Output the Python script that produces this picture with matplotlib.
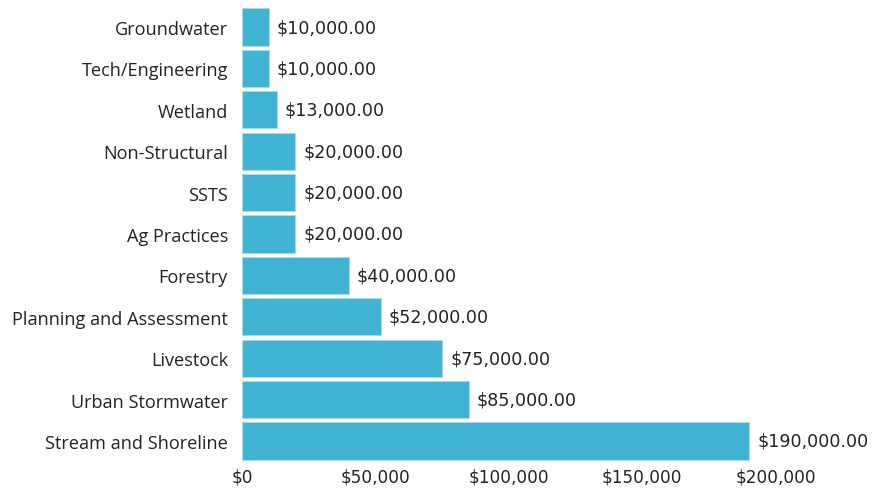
import matplotlib.pyplot as plt
from matplotlib.ticker import FuncFormatter

categories = ["Groundwater", "Tech/Engineering", "Wetland", "Non-Structural", "SSTS",
              "Ag Practices", "Forestry", "Planning and Assessment", "Livestock",
              "Urban Stormwater", "Stream and Shoreline"]
amounts = [10000, 10000, 13000, 20000, 20000, 20000, 40000, 52000, 75000, 85000, 190000]
xticks = [0, 50000, 100000, 150000, 200000]

W, H = 874, 489
fig = plt.figure(figsize=(W / 100, H / 100), dpi=100)
ax = fig.add_axes([242 / W, 1 - 462.7 / H, (775.7 - 242) / W, (462.7 - 7.3) / H])

ypos = list(range(len(categories)))
ax.barh(ypos, amounts, height=0.9, color="#42B4D3", edgecolor="#a8dcea", linewidth=0.6)
ax.set_ylim(len(categories) - 0.5, -0.5)
ax.set_xlim(0, 200000)

ax.set_yticks(ypos)
ax.set_yticklabels(categories, fontsize=13.1, family=["Open Sans", "DejaVu Sans"], color="#222222")
ax.set_xticks(xticks)
ax.xaxis.set_major_formatter(FuncFormatter(lambda v, p: f"${v:,.0f}"))
for t in ax.get_xticklabels():
    t.set_fontsize(12.2)
    t.set_family(["DejaVu Sans"])
    t.set_color("#222222")
ax.tick_params(length=0, pad=10)
ax.tick_params(axis="x", pad=4)

for y, v in zip(ypos, amounts):
    ax.text(v + 3000, y, f"${v:,.2f}", va="center", ha="left", fontsize=12.6,
            family=["DejaVu Sans"], color="#222222", clip_on=False)

for s in ax.spines.values():
    s.set_visible(False)

fig.savefig("out.png", dpi=100)
